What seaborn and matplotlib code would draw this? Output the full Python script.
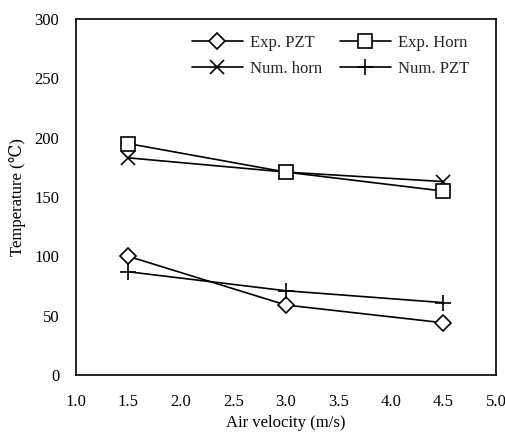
import matplotlib
matplotlib.use("Agg")
import matplotlib.pyplot as plt
import seaborn as sns

velocity = [1.5, 3.0, 4.5]
exp_pzt = [100, 59, 44]
exp_horn = [195, 171, 155]
num_horn = [183, 171, 163]
num_pzt = [87, 71, 61]
xticks = [1.0, 1.5, 2.0, 2.5, 3.0, 3.5, 4.0, 4.5, 5.0]
yticks = [0, 50, 100, 150, 200, 250, 300]

sns.set_theme(style="white")
plt.rcParams['font.family'] = ['Liberation Serif', 'DejaVu Serif']
plt.rcParams['font.size'] = 12

fig = plt.figure(figsize=(5.06, 4.38), dpi=100)
ax = fig.add_axes([0.150, 0.1438, 0.830, 0.8128])

lw = 1.2
common = dict(color='black', linewidth=lw, markeredgecolor='black', markeredgewidth=1.2)
sns.lineplot(x=velocity, y=exp_pzt, ax=ax, marker='D', markersize=8, markerfacecolor='white', label='Exp. PZT', **common)
sns.lineplot(x=velocity, y=num_horn, ax=ax, marker='x', markersize=10, label='Num. horn', **common)
sns.lineplot(x=velocity, y=exp_horn, ax=ax, marker='s', markersize=10, markerfacecolor='white', label='Exp. Horn', **common)
sns.lineplot(x=velocity, y=num_pzt, ax=ax, marker='+', markersize=11, label='Num. PZT', **common)

ax.set_xlim(1.0, 5.0)
ax.set_ylim(0, 300)
ax.set_xticks(xticks)
ax.set_xticklabels([f"{v:.1f}" for v in xticks])
ax.set_yticks(yticks)
ax.tick_params(direction='in', length=4, width=1, colors='black', labelsize=12)
ax.tick_params(axis='x', pad=14)
ax.tick_params(axis='y', pad=12)
for s in ax.spines.values():
    s.set_color('black')
    s.set_linewidth(1.2)

ax.set_xlabel('Air velocity (m/s)', fontsize=12, color='black', labelpad=3)
ax.set_ylabel('Temperature (℃)', fontsize=12, color='black', labelpad=6)

ax.legend(ncol=2, frameon=False, loc='upper left', bbox_to_anchor=(0.26, 0.975), borderaxespad=0,
          handlelength=3.05, columnspacing=1.08, handletextpad=0.42, fontsize=12, labelspacing=0.6)

fig.savefig('out.png', dpi=100)
